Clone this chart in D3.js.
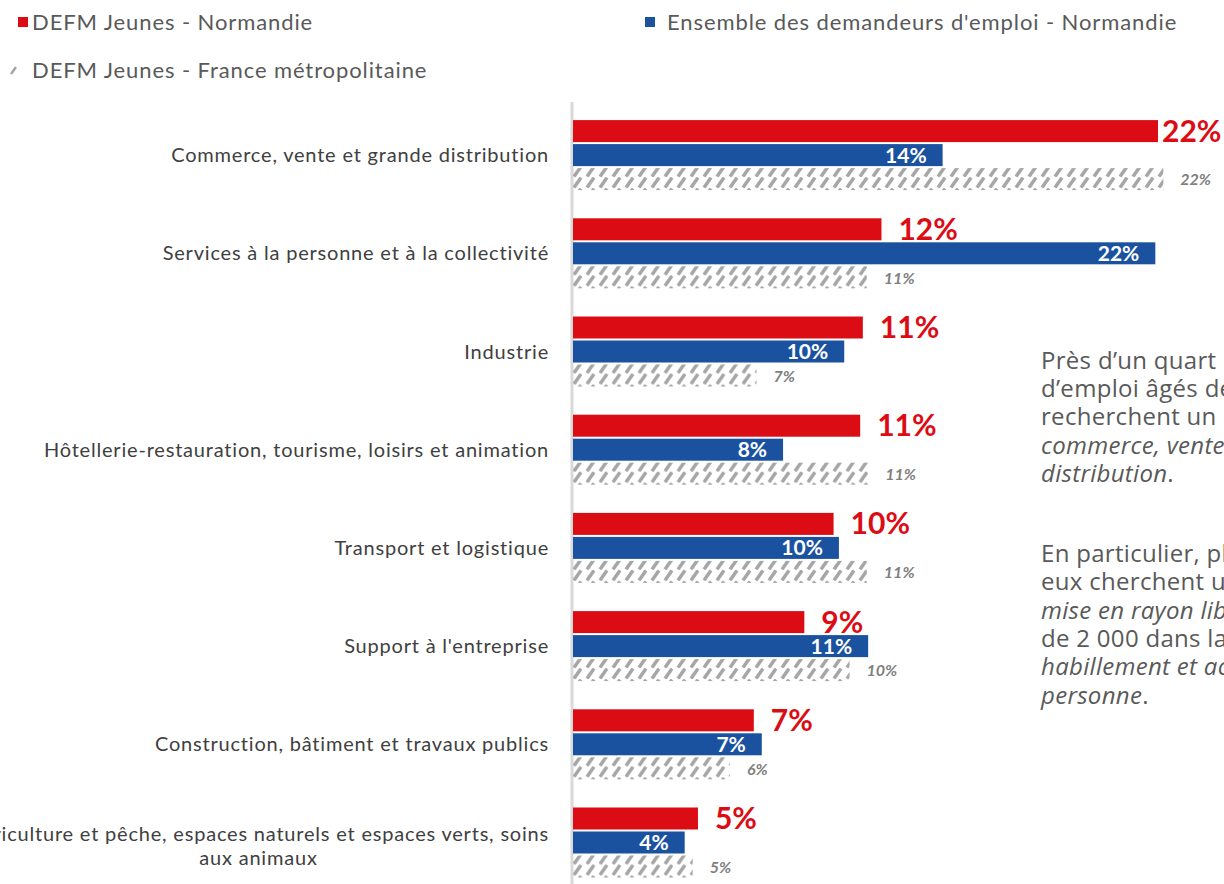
<!DOCTYPE html>
<html>
<head>
<meta charset="utf-8">
<script src="https://cdn.jsdelivr.net/npm/d3@7"></script>
<style>
  body { margin: 0; background: #fff; }
  svg { display: block; }
</style>
</head>
<body>
<svg id="chart" width="1224" height="884"></svg>
<script>
// categories (top to bottom)
let categories = [
	"Commerce, vente et grande distribution",
	"Services à la personne et à la collectivité",
	"Industrie",
	"Hôtellerie-restauration, tourisme, loisirs et animation",
	"Transport et logistique",
	"Support à l'entreprise",
	"Construction, bâtiment et travaux publics",
	"Agriculture et pêche, espaces naturels et espaces verts, soins aux animaux"
];

let seriesNames = [
	"DEFM Jeunes - Normandie",
	"Ensemble des demandeurs d'emploi - Normandie",
	"DEFM Jeunes - France métropolitaine"
];

// shares in %
let jeunesNormandie = [22.0, 11.6, 10.9, 10.8, 9.8, 8.7, 6.8, 4.7];
let ensembleNormandie = [13.9, 21.9, 10.2, 7.9, 10.0, 11.1, 7.1, 4.2];
let jeunesFrance = [22.2, 11.05, 6.9, 11.1, 11.05, 10.4, 5.9, 4.5];

let paragraphs = [
	[
		[["Près d’un quart des jeunes demandeurs", false]],
		[["d’emploi âgés de moins de 26 ans", false]],
		[["recherchent un métier du", false]],
		[["commerce, vente et grande", true]],
		[["distribution", true], [".", false]]
	],
	[
		[["En particulier, plus de 3 000 d’entre", false]],
		[["eux cherchent un emploi dans la", false]],
		[["mise en rayon libre-service", true], [" et plus", false]],
		[["de 2 000 dans la ", false], ["vente en", true]],
		[["habillement et accessoires de la", true]],
		[["personne", true], [".", false]]
	]
];

let svg = d3.select("svg#chart");
let red = "#dc0c15", blue = "#1a52a0", grey = "#a6a6a6";

let defs = svg.append("defs");
let pat = defs.append("pattern")
	.attr("id", "hatch")
	.attr("patternUnits", "userSpaceOnUse")
	.attr("width", 13)
	.attr("height", 11);
pat.append("line")
	.attr("x1", 2).attr("y1", 10.5)
	.attr("x2", 9).attr("y2", 0.5)
	.attr("stroke", grey)
	.attr("stroke-width", 3.5);

let x = d3.scaleLinear().domain([0, 22]).range([573, 1158]);
let y = d3.scaleBand().domain(categories).range([106, 891.6]);
let sub = d3.scaleBand().domain(seriesNames).range([-35, 35]).paddingInner(1 / 12);

// axis line
svg.append("line")
	.attr("x1", 572).attr("x2", 572)
	.attr("y1", 102).attr("y2", 884)
	.attr("stroke", "#d9d9d9")
	.attr("stroke-width", 3);

let rows = categories.map(function(c, i) {
	return { cat: c, vals: [jeunesNormandie[i], ensembleNormandie[i], jeunesFrance[i]] };
});

let group = svg.selectAll("g.cat")
	.data(rows)
	.enter().append("g")
	.attr("class", "cat")
	.attr("transform", function(d) { return "translate(0," + (y(d.cat) + y.bandwidth() / 2) + ")"; });

let fills = [red, blue, "url(#hatch)"];
let pct = function(v) { return Math.round(v) + "%"; };

group.each(function(d) {
	let g = d3.select(this);
	d.vals.forEach(function(v, k) {
		g.append("rect")
			.attr("x", x(0))
			.attr("y", sub(seriesNames[k]))
			.attr("width", x(v) - x(0))
			.attr("height", sub.bandwidth())
			.attr("fill", fills[k]);
	});
	let cy = function(k) { return sub(seriesNames[k]) + sub.bandwidth() / 2; };
	// red label
	g.append("text")
		.attr("x", Math.min(x(d.vals[0]) + 17, 1162))
		.attr("y", cy(0))
		.attr("dy", "0.35em")
		.attr("font-family", "Lato")
		.attr("font-weight", "bold")
		.attr("font-size", 30)
		.attr("fill", red)
		.text(pct(d.vals[0]));
	// blue label inside
	g.append("text")
		.attr("x", x(d.vals[1]) - 16)
		.attr("y", cy(1))
		.attr("dy", "0.36em")
		.attr("text-anchor", "end")
		.attr("font-family", "Lato")
		.attr("font-weight", "bold")
		.attr("font-size", 21)
		.attr("fill", "#fff")
		.text(pct(d.vals[1]));
	// hatched label
	g.append("text")
		.attr("x", x(d.vals[2]) + 17)
		.attr("y", cy(2))
		.attr("dy", "0.4em")
		.attr("font-family", "Lato")
		.attr("font-weight", "bold")
		.attr("font-style", "italic")
		.attr("font-size", 16)
		.attr("fill", "#808080")
		.text(pct(d.vals[2]));
});

// category labels
group.each(function(d, i) {
	let g = d3.select(this);
	let lab = g.append("text")
		.attr("font-family", "Lato")
		.attr("font-size", 20)
		.attr("letter-spacing", 0.8)
		.attr("fill", "#404040");
	if (i === categories.length - 1) {
		let l1 = "Agriculture et pêche, espaces naturels et espaces verts, soins", l2 = "aux animaux";
		let t1 = lab.append("tspan").attr("y", -9).attr("dy", "0.35em").text(l1);
		let w = t1.node().getComputedTextLength();
		lab.attr("text-anchor", "middle");
		t1.attr("x", 549 - w / 2);
		lab.append("tspan").attr("x", 549 - w / 2).attr("y", 15).attr("dy", "0.35em").text(l2);
	} else {
		lab.attr("x", 549).attr("dy", "0.35em").attr("text-anchor", "end").text(d.cat);
	}
});

// legend
let legend = [
	{ name: seriesNames[0], x: 18, y: 22, fill: red, tx: 14 },
	{ name: seriesNames[1], x: 645, y: 22, fill: blue, tx: 22 },
	{ name: seriesNames[2], x: 18, y: 70, fill: null, tx: 14 }
];
let lg = svg.selectAll("g.leg")
	.data(legend)
	.enter().append("g")
	.attr("class", "leg")
	.attr("transform", function(d) { return "translate(" + d.x + "," + d.y + ")"; });
lg.filter(function(d) { return d.fill; })
	.append("rect")
	.attr("x", 0).attr("y", -5).attr("width", 10).attr("height", 10)
	.attr("fill", function(d) { return d.fill; });
lg.filter(function(d) { return !d.fill; })
	.append("line")
	.attr("x1", -7).attr("y1", 4).attr("x2", -2).attr("y2", -3)
	.attr("stroke", grey).attr("stroke-width", 2.5);
lg.append("text")
	.attr("x", function(d) { return d.tx; })
	.attr("dy", "0.35em")
	.attr("font-family", "Lato")
	.attr("font-size", 22)
	.attr("letter-spacing", 0.9)
	.attr("fill", "#595959")
	.text(function(d) { return d.name; });

// commentary text at right
let lineY = [[361, 389, 417, 446, 474], [554, 582, 611, 639, 667, 696]];
let para = svg.append("g")
	.attr("font-family", "Open Sans")
	.attr("font-size", 24)
	.attr("letter-spacing", 0.3)
	.attr("fill", "#595959");
paragraphs.forEach(function(p, pi) {
	p.forEach(function(line, li) {
		let t = para.append("text")
			.attr("x", 1041)
			.attr("y", lineY[pi][li])
			.attr("dy", "0.35em");
		line.forEach(function(part) {
			t.append("tspan")
				.attr("font-style", part[1] ? "italic" : "normal")
				.text(part[0]);
		});
	});
});
</script>
</body>
</html>
